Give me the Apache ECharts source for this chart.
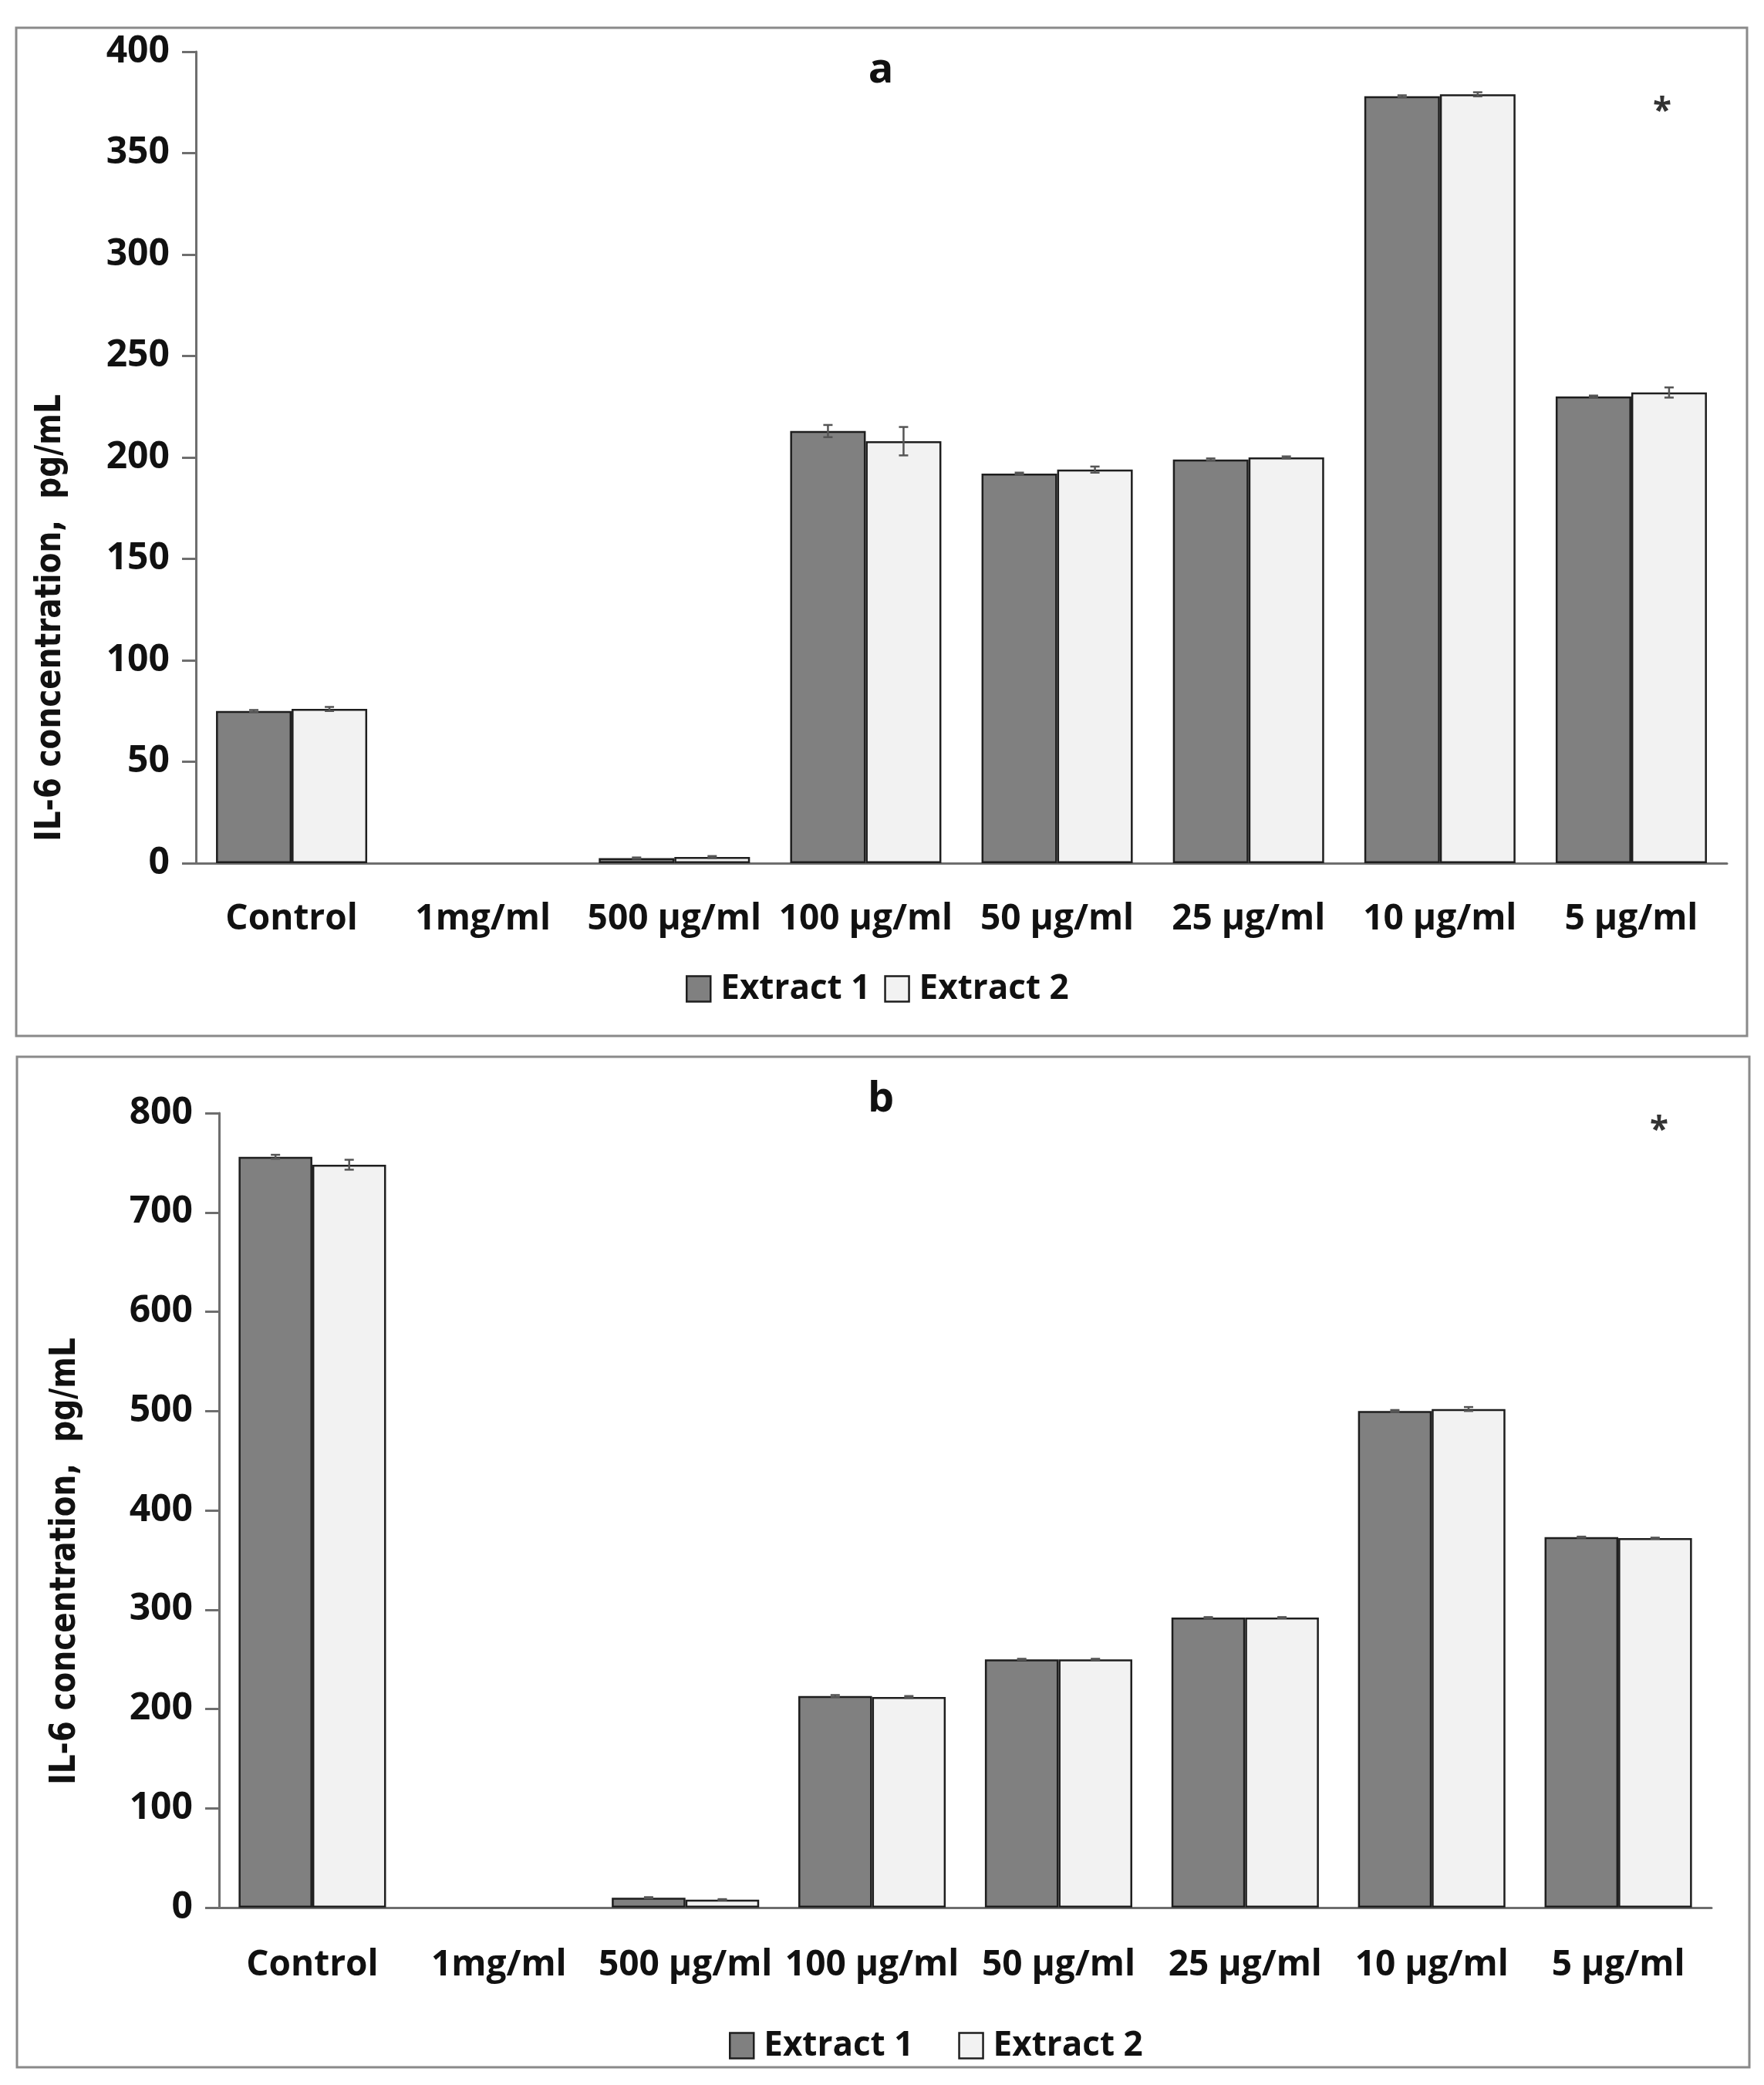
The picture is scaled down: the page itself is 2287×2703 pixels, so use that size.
<!DOCTYPE html>
<html>
<head>
<meta charset="utf-8">
<script src="https://cdn.jsdelivr.net/npm/echarts@6/dist/echarts.min.js"></script>
<style>
html,body{margin:0;padding:0;background:#fff;}
#chart{width:2287px;height:2703px;}
</style>
</head>
<body>
<div id="chart"></div>
<script>
const categories = ['Control','1mg/ml','500 µg/ml','100 µg/ml','50 µg/ml','25 µg/ml','10 µg/ml','5 µg/ml'];
const seriesNames = ['Extract 1','Extract 2'];
// Panel a
const aExtract1 = [75, 0, 2.5, 213, 192, 199, 378, 230];
const aExtract2 = [76, 0, 3, 208, 194, 200, 379, 232];
const aErr1 = [0.5, 0, 0.3, 3, 0.5, 0.5, 0.5, 0.5];
const aErr2 = [1, 0, 0.5, 7, 1.5, 0.5, 1, 2.5];
const aTicks = {min: 0, max: 400, interval: 50};
// Panel b
const bExtract1 = [756, 0, 10, 213, 250, 292, 500, 373];
const bExtract2 = [748, 0, 8, 212, 250, 292, 502, 372];
const bErr1 = [2, 0, 0.5, 1, 0.5, 0.5, 1, 0.5];
const bErr2 = [5, 0, 0.5, 1, 0.5, 0.5, 2, 0.5];
const bTicks = {min: 0, max: 800, interval: 100};

const yName = 'IL-6 concentration,  pg/mL';
const panelLabels = ['a', 'b'];
const sigMark = '*';

const DARK = '#808080', LIGHT = '#f2f2f2', EDGE = '#1e1e1e', AXIS = '#6e6e6e', TXT = '#111';
const FONT = '"Open Sans", "Liberation Sans", sans-serif';
const GAP = 0.21;

function errData(vals, errs) {
  const out = [];
  vals.forEach((v, i) => { if (errs[i] > 0) out.push([i, v - errs[i], v + errs[i]]); });
  return out;
}
function errRender(sign) {
  return function (params, api) {
    const i = api.value(0);
    const lo = api.coord([i, api.value(1)]);
    const hi = api.coord([i, api.value(2)]);
    const bw = api.size([1, 0])[0];
    const dx = sign * bw * (1 - GAP) / 4;
    const x = lo[0] + dx;
    const cap = 6;
    const st = {stroke: '#555', lineWidth: 2.5};
    return {type: 'group', children: [
      {type: 'line', shape: {x1: x, y1: lo[1], x2: x, y2: hi[1]}, style: st},
      {type: 'line', shape: {x1: x - cap, y1: lo[1], x2: x + cap, y2: lo[1]}, style: st},
      {type: 'line', shape: {x1: x - cap, y1: hi[1], x2: x + cap, y2: hi[1]}, style: st}
    ]};
  };
}

function xAx(gi, margin) {
  return {type: 'category', gridIndex: gi, data: categories,
    axisLine: {lineStyle: {color: AXIS, width: 3}}, axisTick: {show: false},
    axisLabel: {interval: 0, margin: margin, fontFamily: FONT, fontWeight: 'bold', fontSize: 46, color: TXT}};
}
function yAx(gi, t) {
  return {type: 'value', gridIndex: gi, min: t.min, max: t.max, interval: t.interval,
    splitLine: {show: false},
    axisLine: {show: true, lineStyle: {color: AXIS, width: 3}},
    axisTick: {show: true, length: 18, lineStyle: {color: AXIS, width: 3}},
    axisLabel: {margin: 34, fontFamily: FONT, fontWeight: 'bold', fontSize: 48, color: TXT}};
}
function barS(name, vals, gi, color) {
  const data = vals.map(v => v === 0 ? {value: v, itemStyle: {borderWidth: 0}} : v);
  return {type: 'bar', name: name, xAxisIndex: gi, yAxisIndex: gi, data: data,
    barGap: '0%', barCategoryGap: (GAP * 100) + '%',
    itemStyle: {color: color, borderColor: EDGE, borderWidth: 2.5}};
}
function errS(data, gi, sign) {
  return {type: 'custom', xAxisIndex: gi, yAxisIndex: gi, data: data, z: 5,
    renderItem: errRender(sign), silent: true};
}

const legendCommon = {data: seriesNames, icon: 'rect', itemWidth: 31, itemHeight: 33, orient: 'horizontal',
  textStyle: {fontFamily: FONT, fontWeight: 'bold', fontSize: 44, color: TXT, padding: [0, 0, 0, 8]},
  itemStyle: {borderColor: EDGE, borderWidth: 2.5}};

const option = {
  animation: false,
  backgroundColor: '#fff',
  grid: [
    {left: 254, top: 67, width: 1985, height: 1052},
    {left: 284, top: 1443, width: 1935, height: 1030}
  ],
  xAxis: [xAx(0, 50), xAx(1, 52)],
  yAxis: [yAx(0, aTicks), yAx(1, bTicks)],
  legend: [
    Object.assign({}, legendCommon, {left: 884, top: 1255, itemGap: 18}),
    Object.assign({}, legendCommon, {left: 940, top: 2625, itemGap: 58})
  ],
  series: [
    barS(seriesNames[0], aExtract1, 0, DARK),
    barS(seriesNames[1], aExtract2, 0, LIGHT),
    errS(errData(aExtract1, aErr1), 0, -1),
    errS(errData(aExtract2, aErr2), 0, 1),
    barS(seriesNames[0], bExtract1, 1, DARK),
    barS(seriesNames[1], bExtract2, 1, LIGHT),
    errS(errData(bExtract1, bErr1), 1, -1),
    errS(errData(bExtract2, bErr2), 1, 1)
  ],
  graphic: [
    {type: 'rect', shape: {x: 21, y: 36, width: 2244, height: 1307}, style: {fill: 'none', stroke: '#8a8a8a', lineWidth: 3}, z: -1},
    {type: 'rect', shape: {x: 22, y: 1370, width: 2246, height: 1310}, style: {fill: 'none', stroke: '#8a8a8a', lineWidth: 3}, z: -1},
    {type: 'text', x: 1142, y: 92, style: {text: panelLabels[0], align: 'center', verticalAlign: 'middle', font: 'bold 54px ' + FONT, fill: TXT}},
    {type: 'text', x: 1142, y: 1426, style: {text: panelLabels[1], align: 'center', verticalAlign: 'middle', font: 'bold 54px ' + FONT, fill: TXT}},
    {type: 'text', x: 2155, y: 145, style: {text: sigMark, align: 'center', verticalAlign: 'middle', font: 'bold 44px ' + FONT, fill: '#333'}},
    {type: 'text', x: 2151, y: 1466, style: {text: sigMark, align: 'center', verticalAlign: 'middle', font: 'bold 44px ' + FONT, fill: '#333'}},
    {type: 'text', x: 66, y: 801, rotation: Math.PI / 2, scaleY: 1.2, style: {text: yName, align: 'center', verticalAlign: 'middle', font: 'bold 39px "DejaVu Sans", sans-serif', fill: TXT}},
    {type: 'text', x: 85, y: 2024, rotation: Math.PI / 2, scaleY: 1.2, style: {text: yName, align: 'center', verticalAlign: 'middle', font: 'bold 39px "DejaVu Sans", sans-serif', fill: TXT}}
  ]
};

const chart = echarts.init(document.getElementById('chart'), null, {renderer: 'canvas', width: 2287, height: 2703});
chart.setOption(option);
</script>
</body>
</html>
